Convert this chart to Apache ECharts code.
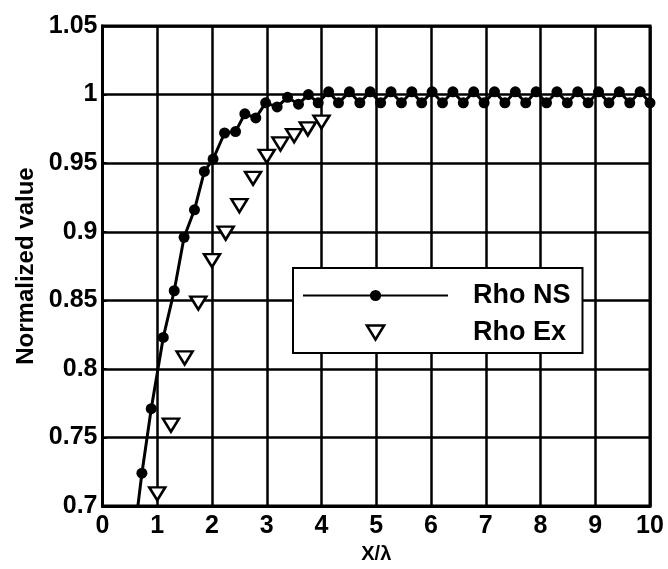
<!DOCTYPE html>
<html>
<head>
<meta charset="utf-8">
<script src="https://cdn.jsdelivr.net/npm/echarts@6/dist/echarts.min.js"></script>
<style>
    html, body { margin: 0; padding: 0; background: #fff; }
    #chart { width: 668px; height: 569px; }
</style>
</head>
<body>
<div id="chart"></div>
<script>
// Rho NS (line + filled dots)
var nsX = [0.60, 0.72, 0.89, 1.11, 1.31, 1.49, 1.68, 1.86, 2.02, 2.23, 2.43, 2.60, 2.80, 2.98, 3.19, 3.38, 3.58,
    3.76, 3.94, 4.13, 4.31, 4.51, 4.70, 4.89, 5.08, 5.27, 5.46, 5.65, 5.83, 6.02, 6.21, 6.40, 6.59,
    6.78, 6.97, 7.16, 7.35, 7.54, 7.73, 7.92, 8.11, 8.30, 8.49, 8.68, 8.87, 9.06, 9.25, 9.44, 9.63, 9.82, 10.0];
var nsY = [0.685, 0.724, 0.771, 0.823, 0.857, 0.896, 0.916, 0.944, 0.953, 0.972, 0.973, 0.986, 0.983, 0.994, 0.991, 0.998, 0.993,
    1.000, 0.994, 1.002, 0.994, 1.002, 0.994, 1.002, 0.994, 1.002, 0.994, 1.002, 0.994, 1.002, 0.994, 1.002, 0.994,
    1.002, 0.994, 1.002, 0.994, 1.002, 0.994, 1.002, 0.994, 1.002, 0.994, 1.002, 0.994, 1.002, 0.994, 1.002, 0.994, 1.002, 0.994];
// Rho Ex (open down triangles)
var exX = [1.0, 1.25, 1.5, 1.75, 2.0, 2.25, 2.5, 2.75, 3.0, 3.25, 3.5, 3.75, 4.0];
var exY = [0.709, 0.759, 0.808, 0.848, 0.879, 0.899, 0.919, 0.939, 0.955, 0.964, 0.970, 0.975, 0.980];
// tick labels
var xTicks = ['0', '1', '2', '3', '4', '5', '6', '7', '8', '9', '10'];
var yTicks = ['0.7', '0.75', '0.8', '0.85', '0.9', '0.95', '1', '1.05'];
var seriesNames = ['Rho NS', 'Rho Ex'];

var font = 'Liberation Sans';
var downTriangle = 'path://M0,0L16,0L8,13Z';

function pairs(xs, ys) {
    return xs.map(function (x, i) { return [x, ys[i]]; });
}

var chart = echarts.init(document.getElementById('chart'), null, { renderer: 'canvas' });
var option = {
    backgroundColor: '#fff',
    animation: false,
    grid: {
        left: 102.5,
        right: 18,
        top: 26,
        bottom: 47,
        show: true,
        borderColor: '#000',
        borderWidth: 3
    },
    legend: {
        orient: 'vertical',
        left: 293,
        top: 268,
        data: [
            { name: seriesNames[0] },
            { name: seriesNames[1], icon: downTriangle,
              itemStyle: { color: '#fff', borderColor: '#000', borderWidth: 2.5, opacity: 1 } }
        ],
        backgroundColor: '#fff',
        borderColor: '#000',
        borderWidth: 2,
        borderRadius: 0,
        padding: [14, 12, 7, 9],
        itemWidth: 145,
        itemHeight: 14,
        itemGap: 10,
        textStyle: {
            fontFamily: font,
            fontWeight: 'bold',
            fontSize: 27,
            color: '#000',
            padding: [0, 0, 0, 20]
        }
    },
    xAxis: {
        type: 'value',
        min: 0,
        max: 10,
        interval: 1,
        name: 'X/λ',
        nameLocation: 'middle',
        nameGap: 28,
        nameTextStyle: { fontFamily: font, fontWeight: 'bold', fontSize: 20, color: '#000' },
        axisLine: { lineStyle: { color: '#000', width: 3 } },
        axisTick: { show: false },
        axisLabel: {
            margin: 8,
            fontFamily: font,
            fontWeight: 'bold',
            fontSize: 25,
            color: '#000',
            formatter: function (v) { return xTicks[Math.round(v)]; }
        },
        splitLine: { show: true, lineStyle: { color: '#000', width: 2.5 } }
    },
    yAxis: {
        type: 'value',
        min: 0.7,
        max: 1.05,
        interval: 0.05,
        name: 'Normalized value',
        nameLocation: 'middle',
        nameGap: 64,
        nameTextStyle: { fontFamily: font, fontWeight: 'bold', fontSize: 24, color: '#000' },
        axisLine: { lineStyle: { color: '#000', width: 3 } },
        axisTick: { show: true, inside: true, length: 4, lineStyle: { color: '#000', width: 2 } },
        axisLabel: {
            margin: 5,
            fontFamily: font,
            fontWeight: 'bold',
            fontSize: 25,
            color: '#000',
            formatter: function (v) { return yTicks[Math.round((v - 0.7) / 0.05)]; }
        },
        splitLine: { show: true, lineStyle: { color: '#000', width: 2.5 } }
    },
    series: [
        {
            name: seriesNames[0],
            type: 'line',
            data: pairs(nsX, nsY),
            clip: true,
            symbol: 'circle',
            symbolSize: 11,
            showAllSymbol: true,
            lineStyle: { color: '#000', width: 3 },
            itemStyle: { color: '#000' },
            z: 3
        },
        {
            name: seriesNames[1],
            type: 'scatter',
            data: pairs(exX, exY),
            symbol: downTriangle,
            symbolSize: [16, 13],
            itemStyle: { color: '#fff', borderColor: '#000', borderWidth: 2.5, opacity: 1 },
            z: 4
        }
    ]
};
chart.setOption(option);
</script>
</body>
</html>
